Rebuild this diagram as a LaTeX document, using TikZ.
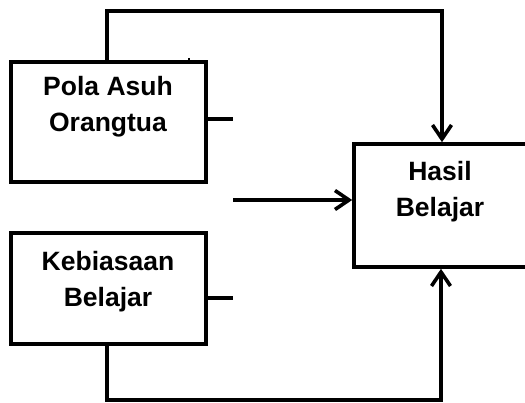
\documentclass[tikz,border=0pt]{standalone}
\usepackage{fontspec}
\setmainfont{Liberation Sans}
\usetikzlibrary{arrows.meta}
\begin{document}
\begin{tikzpicture}[x=1pt,y=-1pt,line width=3.6pt,
  box/.style={draw,line width=3.6pt,rectangle,inner sep=0pt},
  lbl/.style={font=\bfseries\fontsize{26.5}{36}\selectfont,align=center,anchor=base,inner sep=0pt},
  conn/.style={line width=3.6pt},
  arr/.style={line width=3.6pt,-{Straight Barb[length=14pt,width=19pt,line width=3.6pt]}}]
\clip (0,0) rectangle (525,403);
\useasboundingbox (0,0) rectangle (525,403);
% boxes
\node[box,minimum width=195pt,minimum height=120pt] (pola) at (108.5,122) {};
\node[box,minimum width=195pt,minimum height=111pt] (kebi) at (108.5,288.5) {};
\node[box,minimum width=176pt,minimum height=123pt] (hasil) at (442,205.5) {};
% labels (base anchor = baseline of the last line)
\node[lbl] (tpola) at (108,132) {Pola Asuh\\Orangtua};
\node[lbl] (tkebi) at (108,307) {Kebiasaan\\Belajar};
\node[lbl] (thasil) at (440,217) {Hasil\\Belajar};
% coordinates
\coordinate (top) at (107,11);
\coordinate (bot) at (107,400);
\coordinate (s1) at (233,119);
\coordinate (s2) at (233,298);
\coordinate (mid) at (233,200);
\coordinate (tick) at (189,58);
% connectors
\draw[arr] (pola.north -| top) -- (top) -| (hasil.north);
\draw[arr] (kebi.south -| bot) -- (bot) -| ([xshift=-1pt]hasil.south);
\draw[conn] (pola.east |- s1) -- (s1);
\draw[conn] (kebi.east |- s2) -- (s2);
\draw[arr] (mid) -- (mid -| hasil.west);
\draw[line width=2pt] (tick) -- (tick |- pola.north);
\end{tikzpicture}
\end{document}
